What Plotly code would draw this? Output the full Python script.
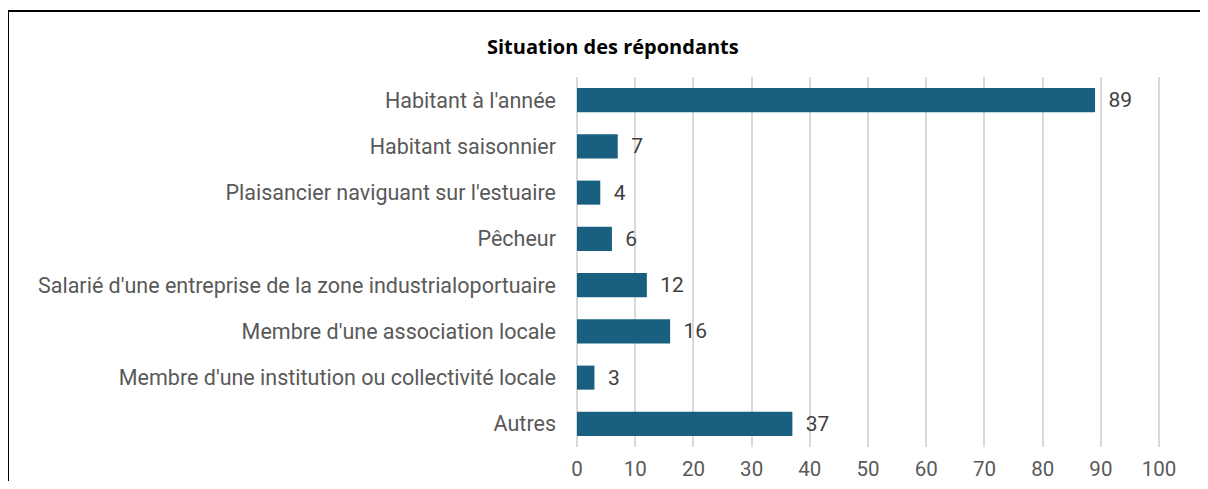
import plotly.graph_objects as go

categories = [
    "Habitant à l'année",
    "Habitant saisonnier",
    "Plaisancier naviguant sur l'estuaire",
    "Pêcheur",
    "Salarié d'une entreprise de la zone industrialoportuaire",
    "Membre d'une association locale",
    "Membre d'une institution ou collectivité locale",
    "Autres",
]
counts = [89, 7, 4, 6, 12, 16, 3, 37]
x_ticks = list(range(0, 101, 10))

# page has an 8px body margin, so the figure is drawn 8px smaller
OFF = 8
W, H = 1208 - 2 * OFF, 489 - 2 * OFF
L, R, T, B = 577 - OFF, 1208 - OFF - 1162, 77 - OFF, 489 - OFF - 447
pw, ph = W - L - R, H - T - B

LABEL_FONT = "Roboto"


def px_x(p):
    return (p - OFF - L) / pw


def px_y(p):
    return (H - B - (p - OFF)) / ph


fig = go.Figure(go.Bar(
    y=categories,
    x=counts,
    orientation="h",
    marker=dict(color="#185f80", line=dict(width=0)),
    text=counts,
    texttemplate="  %{text}",
    textposition="outside",
    textfont=dict(family=LABEL_FONT, size=21, color="#404040"),
    cliponaxis=False,
))

fig.update_layout(
    width=W, height=H,
    margin=dict(l=L, r=R, t=T, b=B),
    plot_bgcolor="white",
    paper_bgcolor="white",
    bargap=0.48,
    showlegend=False,
    font=dict(family=LABEL_FONT, size=21, color="#595959"),
)

fig.update_yaxes(
    autorange="reversed",
    automargin=False,
    showgrid=False,
    showline=False,
    ticks="",
    ticklabelstandoff=20,
    tickfont=dict(family=LABEL_FONT, size=21.5, color="#595959"),
)
fig.update_xaxes(
    range=[0, 100.5],
    automargin=False,
    tickvals=x_ticks,
    showgrid=True,
    gridcolor="#d9d9d9",
    gridwidth=2,
    zeroline=True,
    zerolinecolor="#d9d9d9",
    zerolinewidth=2,
    showline=False,
    ticks="",
    ticklabelstandoff=7,
    tickfont=dict(family=LABEL_FONT, size=20.5, color="#595959"),
)

fig.add_annotation(
    text="<b>Situation des répondants</b>",
    xref="paper", yref="paper",
    x=px_x(613), y=px_y(47),
    xanchor="center", yanchor="middle",
    showarrow=False,
    font=dict(family="Open Sans", size=20, color="black"),
)

# chart frame
fig.add_shape(
    type="rect",
    xref="paper", yref="paper",
    x0=px_x(8), x1=px_x(1230),
    y0=px_y(520), y1=px_y(11),
    line=dict(color="black", width=2),
    layer="below",
)

fig.write_html("out.html")
